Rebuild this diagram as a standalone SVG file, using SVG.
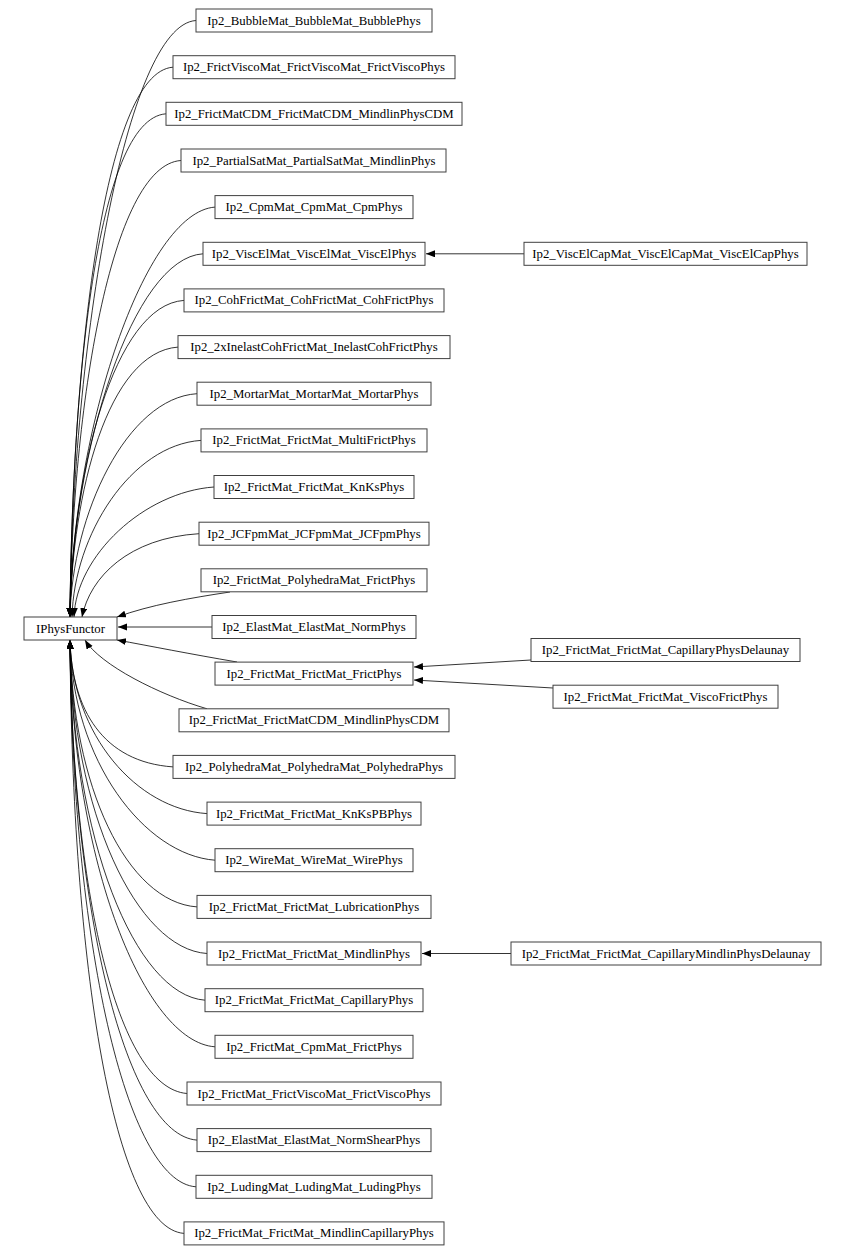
<svg xmlns="http://www.w3.org/2000/svg" width="846" height="1256" viewBox="0 0 846 1256">
<style>
rect{fill:#fff;stroke:#404040;stroke-width:1}
text{font-family:"Liberation Serif","Times New Roman",serif;font-size:12.8px;fill:#000;text-anchor:middle;dominant-baseline:central}
.e path{fill:none;stroke:#000;stroke-width:0.8}
</style>
<defs><marker id="a" markerUnits="userSpaceOnUse" markerWidth="10" markerHeight="8" refX="9" refY="3.5" orient="auto"><path d="M0,0 L9,3.5 L0,7z" fill="#000"/></marker></defs>
<rect width="846" height="1256" fill="#fff" style="stroke:none"/>
<g class="e" marker-end="url(#a)">
<path d="M196,20.5 C126,25 72,345.8 70,617"/>
<path d="M173,67.2 C103,72 72,366.8 70,617"/>
<path d="M166,113.8 C96,119 72,387.8 70,617"/>
<path d="M181,160.5 C111,165 72,408.8 70,617"/>
<path d="M215,207.1 C145,212 72,429.8 70,617"/>
<path d="M203,253.8 C133,258 72,450.8 70,617"/>
<path d="M184,300.4 C114,305 72,471.8 70,617"/>
<path d="M178,347.1 C108,352 72,492.8 70,617"/>
<path d="M197,393.7 C127,398 72,513.8 70,617"/>
<path d="M201,440.4 C131,445 74,534.8 72,617"/>
<path d="M214,487 C144,492 76,555.8 74,617"/>
<path d="M199,533.7 C129,538 90,576.8 82,617"/>
<path d="M230,592 C190,598 150,605 117,617"/>
<path d="M212,627 L118,627"/>
<path d="M237,662 C190,654 150,646 117,640"/>
<path d="M207,708.8 C160,695 100,665 85,640"/>
<path d="M173,766.9 C103,762 72,709.8 70,640"/>
<path d="M207,813.6 C137,809 72,735.5 70,640"/>
<path d="M215,860.2 C145,855 72,761.1 70,640"/>
<path d="M197,906.9 C127,902 72,786.8 70,640"/>
<path d="M207,953.5 C137,949 72,812.4 70,640"/>
<path d="M205,1000.2 C135,995 72,838.1 70,640"/>
<path d="M215,1046.8 C145,1042 72,863.7 70,640"/>
<path d="M187,1093.5 C117,1088 72,889.4 70,640"/>
<path d="M197,1140.1 C127,1135 72,915.1 70,640"/>
<path d="M196,1186.8 C126,1182 72,940.7 70,640"/>
<path d="M184,1233.4 C114,1228 72,966.4 70,640"/>
<path d="M524,253.8 L426,253.8"/>
<path d="M531,660 L414,667"/>
<path d="M553,688 L414,680"/>
<path d="M511,953.5 L422,953.5"/>
</g>
<g id="IPhysFunctor"><rect x="24" y="617" width="93" height="23"/><text x="70.5" y="628.5">IPhysFunctor</text></g>
<g id="n1"><rect x="196" y="9" width="236" height="23"/><text x="314" y="20.5">Ip2_BubbleMat_BubbleMat_BubblePhys</text></g>
<g id="n2"><rect x="173" y="55.7" width="282" height="23"/><text x="314" y="67.2">Ip2_FrictViscoMat_FrictViscoMat_FrictViscoPhys</text></g>
<g id="n3"><rect x="166" y="102.3" width="296" height="23"/><text x="314" y="113.8">Ip2_FrictMatCDM_FrictMatCDM_MindlinPhysCDM</text></g>
<g id="n4"><rect x="181" y="149" width="265" height="23"/><text x="314" y="160.5">Ip2_PartialSatMat_PartialSatMat_MindlinPhys</text></g>
<g id="n5"><rect x="215" y="195.6" width="198" height="23"/><text x="314" y="207.1">Ip2_CpmMat_CpmMat_CpmPhys</text></g>
<g id="n6"><rect x="203" y="242.3" width="222" height="23"/><text x="314" y="253.8">Ip2_ViscElMat_ViscElMat_ViscElPhys</text></g>
<g id="n7"><rect x="184" y="288.9" width="260" height="23"/><text x="314" y="300.4">Ip2_CohFrictMat_CohFrictMat_CohFrictPhys</text></g>
<g id="n8"><rect x="178" y="335.6" width="272" height="23"/><text x="314" y="347.1">Ip2_2xInelastCohFrictMat_InelastCohFrictPhys</text></g>
<g id="n9"><rect x="197" y="382.2" width="234" height="23"/><text x="314" y="393.7">Ip2_MortarMat_MortarMat_MortarPhys</text></g>
<g id="n10"><rect x="201" y="428.9" width="226" height="23"/><text x="314" y="440.4">Ip2_FrictMat_FrictMat_MultiFrictPhys</text></g>
<g id="n11"><rect x="214" y="475.5" width="200" height="23"/><text x="314" y="487">Ip2_FrictMat_FrictMat_KnKsPhys</text></g>
<g id="n12"><rect x="199" y="522.2" width="230" height="23"/><text x="314" y="533.7">Ip2_JCFpmMat_JCFpmMat_JCFpmPhys</text></g>
<g id="n13"><rect x="201" y="568.8" width="226" height="23"/><text x="314" y="580.3">Ip2_FrictMat_PolyhedraMat_FrictPhys</text></g>
<g id="n14"><rect x="212" y="615.5" width="204" height="23"/><text x="314" y="627">Ip2_ElastMat_ElastMat_NormPhys</text></g>
<g id="n15"><rect x="215" y="662.1" width="198" height="23"/><text x="314" y="673.6">Ip2_FrictMat_FrictMat_FrictPhys</text></g>
<g id="n16"><rect x="179" y="708.8" width="270" height="23"/><text x="314" y="720.3">Ip2_FrictMat_FrictMatCDM_MindlinPhysCDM</text></g>
<g id="n17"><rect x="173" y="755.4" width="282" height="23"/><text x="314" y="766.9">Ip2_PolyhedraMat_PolyhedraMat_PolyhedraPhys</text></g>
<g id="n18"><rect x="207" y="802.1" width="214" height="23"/><text x="314" y="813.6">Ip2_FrictMat_FrictMat_KnKsPBPhys</text></g>
<g id="n19"><rect x="215" y="848.7" width="198" height="23"/><text x="314" y="860.2">Ip2_WireMat_WireMat_WirePhys</text></g>
<g id="n20"><rect x="197" y="895.4" width="234" height="23"/><text x="314" y="906.9">Ip2_FrictMat_FrictMat_LubricationPhys</text></g>
<g id="n21"><rect x="207" y="942" width="214" height="23"/><text x="314" y="953.5">Ip2_FrictMat_FrictMat_MindlinPhys</text></g>
<g id="n22"><rect x="205" y="988.7" width="218" height="23"/><text x="314" y="1000.2">Ip2_FrictMat_FrictMat_CapillaryPhys</text></g>
<g id="n23"><rect x="215" y="1035.3" width="198" height="23"/><text x="314" y="1046.8">Ip2_FrictMat_CpmMat_FrictPhys</text></g>
<g id="n24"><rect x="187" y="1082" width="254" height="23"/><text x="314" y="1093.5">Ip2_FrictMat_FrictViscoMat_FrictViscoPhys</text></g>
<g id="n25"><rect x="197" y="1128.6" width="234" height="23"/><text x="314" y="1140.1">Ip2_ElastMat_ElastMat_NormShearPhys</text></g>
<g id="n26"><rect x="196" y="1175.3" width="236" height="23"/><text x="314" y="1186.8">Ip2_LudingMat_LudingMat_LudingPhys</text></g>
<g id="n27"><rect x="184" y="1221.9" width="260" height="23"/><text x="314" y="1233.4">Ip2_FrictMat_FrictMat_MindlinCapillaryPhys</text></g>
<g id="r1"><rect x="524" y="242.3" width="283" height="23"/><text x="665.5" y="253.8">Ip2_ViscElCapMat_ViscElCapMat_ViscElCapPhys</text></g>
<g id="r2"><rect x="531" y="638.5" width="269" height="23"/><text x="665.5" y="650">Ip2_FrictMat_FrictMat_CapillaryPhysDelaunay</text></g>
<g id="r3"><rect x="553" y="685.2" width="225" height="23"/><text x="665.5" y="696.7">Ip2_FrictMat_FrictMat_ViscoFrictPhys</text></g>
<g id="r4"><rect x="511" y="942" width="310" height="23"/><text x="666" y="953.5">Ip2_FrictMat_FrictMat_CapillaryMindlinPhysDelaunay</text></g>
</svg>
